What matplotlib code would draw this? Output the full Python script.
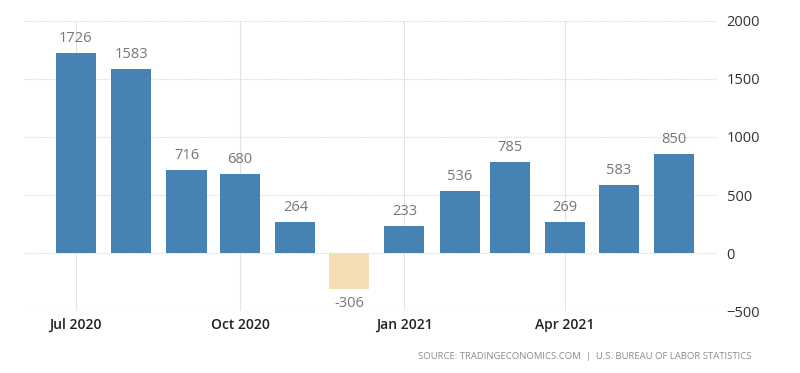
import matplotlib
matplotlib.use("Agg")
import matplotlib.pyplot as plt
import matplotlib.dates as mdates
import numpy as np
import datetime as dt

months = ["2020-07", "2020-08", "2020-09", "2020-10", "2020-11", "2020-12",
          "2021-01", "2021-02", "2021-03", "2021-04", "2021-05", "2021-06"]
values = [1726, 1583, 716, 680, 264, -306, 233, 536, 785, 269, 583, 850]
yticks = [-500, 0, 500, 1000, 1500, 2000]
xtick_months = ["2020-07", "2020-10", "2021-01", "2021-04"]
source_text = "SOURCE: TRADINGECONOMICS.COM  |  U.S. BUREAU OF LABOR STATISTICS"

plt.rcParams['font.family'] = ['Open Sans', 'DejaVu Sans']

def to_date(s):
    y, m = s.split("-")
    return dt.datetime(int(y), int(m), 1)

dates = [to_date(m) for m in months]
xnum = mdates.date2num(dates)

fig = plt.figure(figsize=(8, 3.73), dpi=100)
ax = fig.add_axes([0.03, 0.166, 0.866, 0.778])

pos_color = "#4682B4"
neg_color = "#F5DEB3"
colors = [pos_color if v >= 0 else neg_color for v in values]
ax.bar(xnum, values, width=22.5, color=colors, zorder=3)

for x, v in zip(xnum, values):
    if v >= 0:
        ax.annotate(str(v), (x, v), xytext=(0, 5), textcoords="offset points",
                    ha="center", va="bottom", fontsize=10.5, color="#777777")
    else:
        ax.annotate(str(v), (x, v), xytext=(0, -5), textcoords="offset points",
                    ha="center", va="top", fontsize=10.5, color="#777777")

ax.set_ylim(-500, 2000)
ax.set_xlim(mdates.date2num(dt.datetime(2020, 6, 2)),
            mdates.date2num(dt.datetime(2021, 6, 25)))
ax.set_yticks(yticks)
ax.yaxis.tick_right()
ax.tick_params(axis="y", length=0, pad=7, labelsize=10.5, labelcolor="#333333")
xt = mdates.date2num([to_date(m) for m in xtick_months])
ax.set_xticks(xt)
ax.set_xticklabels([to_date(m).strftime("%b %Y") for m in xtick_months],
                   fontsize=10, color="#222222", fontweight="semibold")
ax.tick_params(axis="x", length=0, pad=5)

ax.grid(axis="y", color="#d9d9d9", linestyle=(0, (1, 1)), linewidth=0.8, zorder=0)
ax.grid(axis="x", color="#e3e3e3", linestyle="-", linewidth=0.8, zorder=0)
for s in ax.spines.values():
    s.set_visible(False)

fig.text(0.94, 0.045, source_text, ha="right", va="center", fontsize=6.8,
         color="#8a8a8a")

fig.savefig("out.png", dpi=100)
